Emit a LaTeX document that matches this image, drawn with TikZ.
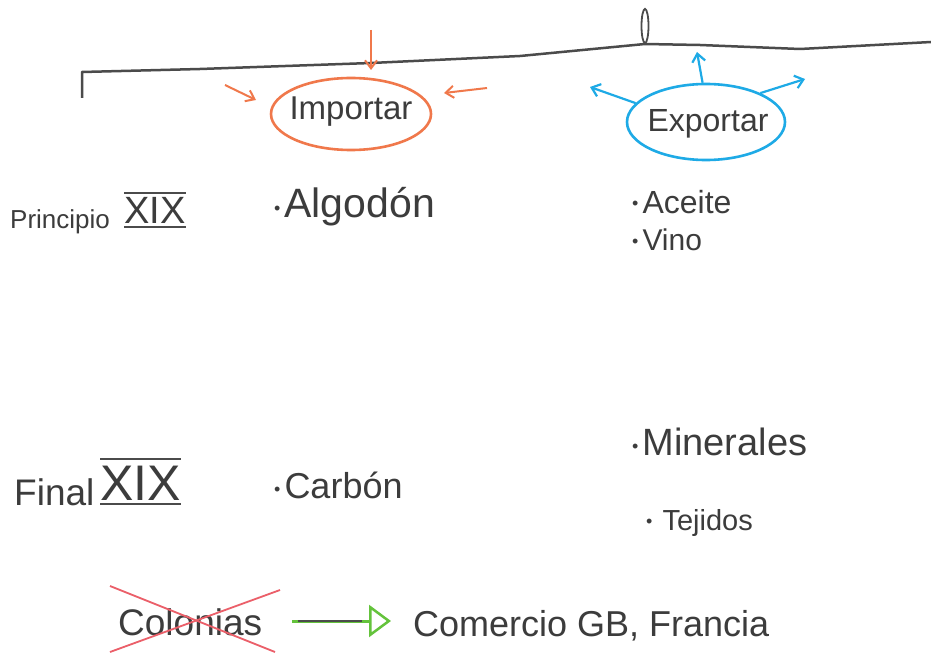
\documentclass[tikz,border=0pt]{standalone}
\usepackage{fontspec}
\setmainfont{Liberation Sans}
\usetikzlibrary{shapes.geometric,arrows.meta}
\definecolor{ink}{RGB}{60,60,60}
\definecolor{linegray}{RGB}{75,75,75}
\definecolor{orng}{RGB}{240,120,75}
\definecolor{blu}{RGB}{30,170,230}
\definecolor{grn}{RGB}{100,195,60}
\definecolor{rd}{RGB}{235,95,105}
\tikzset{
  txt/.style={text=ink, inner sep=0pt, anchor=base west},
  oarrow/.style={draw=orng, line width=2pt, -{Straight Barb[length=8pt,width=12pt]}},
  barrow/.style={draw=blu, line width=2.2pt, -{Straight Barb[length=8pt,width=13pt]}},
  bubble/.style={ellipse, line width=2.6pt, inner sep=0pt},
  bar/.style={draw=linegray, line width=2pt},
}
\newcommand{\fs}[1]{\fontsize{#1}{#1}\selectfont}
\newcommand{\bul}{\raisebox{3pt}{\fs{18}•}\hspace{4pt}}
\begin{document}
\begin{tikzpicture}[x=1pt,y=-1pt]
\useasboundingbox (0,0) rectangle (931,655);
\fill[white] (0,0) rectangle (931,655);

% timeline
\coordinate (l0) at (82,98);
\coordinate (l1) at (82,72);
\coordinate (l2) at (200,69);
\coordinate (l3) at (371,63);
\coordinate (l4) at (520,56);
\coordinate (l5) at (645,44);
\coordinate (l6) at (700,45);
\coordinate (l7) at (800,49);
\coordinate (l8) at (931,42);
\draw[linegray, line width=2.5pt, line join=round] (l0) -- (l1) -- (l2) -- (l3) -- (l4) -- (l5) -- (l6) -- (l7) -- (l8);
\node[ellipse, draw=linegray, line width=1.8pt, minimum width=7pt, minimum height=34pt, inner sep=0pt] (mark) at (645,26) {};

% Importar
\node[bubble, draw=orng, minimum width=160pt, minimum height=72pt] (imp) at (351,114) {};
\node[text=ink, inner sep=0pt] (impt) at (351,112) {\fs{33}Importar};
\coordinate (ia) at (371,30);
\coordinate (ib) at (371,70);
\draw[oarrow] (ia) -- (ib);
\coordinate (ic) at (225,85);
\coordinate (id) at (256,100);
\draw[oarrow] (ic) -- (id);
\coordinate (ie) at (487,88);
\coordinate (if) at (444,93);
\draw[oarrow] (ie) -- (if);

% Exportar
\node[bubble, draw=blu, minimum width=158pt, minimum height=76pt] (exp) at (706,122) {};
\node[text=ink, inner sep=0pt] (expt) at (708,124) {\fs{32}Exportar};
\coordinate (ea) at (697,52);
\coordinate (eb) at (590,87);
\coordinate (ec) at (805,79);
\draw[barrow] (exp.95) -- (ea);
\draw[barrow] (exp.165) -- (eb);
\draw[barrow] (exp.28) -- (ec);

% Principio XIX
\node[txt] (prin) at (10,228) {\fs{26}Principio};
\node[txt] (x1) at (124,223) {\fs{38}XIX};
\draw[bar] ([yshift=4pt]x1.north west) -- ([yshift=4pt]x1.north east);
\draw[bar] ([yshift=-4pt]x1.south west) -- ([yshift=-4pt]x1.south east);

\node[txt] (alg) at (274,218) {\bul\fs{41}Algodón};
\node[txt] (ace) at (632,213) {\bul\fs{32}Aceite};
\node[txt] (vin) at (632,250) {\bul\fs{30}Vino};

% Final XIX
\node[txt] (fin) at (14,505) {\fs{37}Final};
\node[txt] (x2) at (100,500) {\fs{50}XIX};
\draw[bar] ([yshift=6pt]x2.north west) -- ([yshift=6pt]x2.north east);
\draw[bar] ([yshift=-4pt]x2.south west) -- ([yshift=-4pt]x2.south east);

\node[txt] (car) at (274,498) {\bul\fs{36}Carbón};
\node[txt] (min) at (632,455) {\bul\fs{38}Minerales};
\node[txt] (tej) at (646,530) {\bul\hspace{6pt}\fs{29}Tejidos};

% bottom row
\node[txt] (col) at (118,635) {\fs{37}Colonias};
\coordinate (x1a) at (110,586);
\coordinate (x1b) at (275,652);
\coordinate (x2a) at (110,652);
\coordinate (x2b) at (280,590);
\draw[rd, line width=1.8pt] (x1a) -- (x1b);
\draw[rd, line width=1.8pt] (x2a) -- (x2b);

\node[txt] (com) at (413,636) {\fs{36}Comercio GB, Francia};
\coordinate (ga) at (292,621);
\draw[grn, line width=3pt, -{Triangle[open, length=22pt, width=32pt, line width=2.5pt]}] (ga) -- ([xshift=-22pt]com.west |- ga);
\draw[linegray, line width=2.2pt] (ga) ++(6,0) -- ++(64,0);
\end{tikzpicture}
\end{document}
